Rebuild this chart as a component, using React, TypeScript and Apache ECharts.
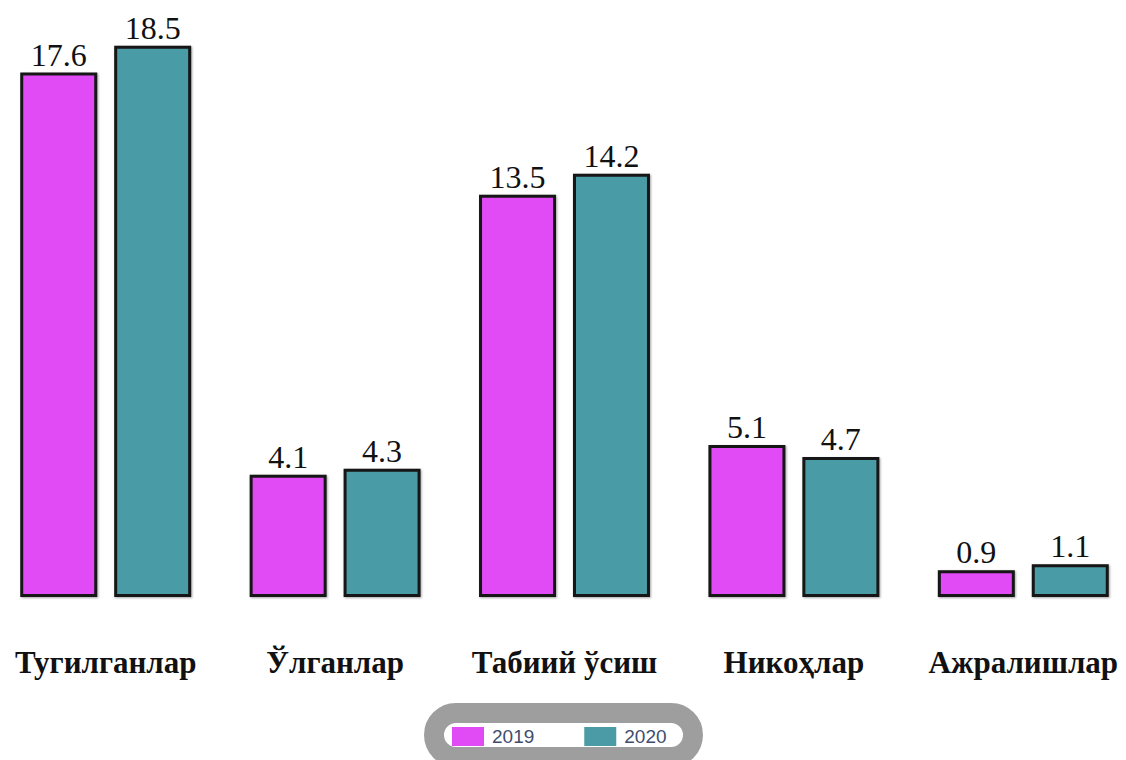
import React, { useEffect, useRef } from "react";
import * as echarts from "echarts";

const categories = ["Тугилганлар", "Ўлганлар", "Табиий ўсиш", "Никоҳлар", "Ажралишлар"];
const seriesNames = ["2019", "2020"];
const values2019 = [17.6, 4.1, 13.5, 5.1, 0.9];
const values2020 = [18.5, 4.3, 14.2, 4.7, 1.1];
const colors = ["#e04bf6", "#4a9ba6"];

const SHIFT = 10;

export default function App() {
  const ref = useRef<HTMLDivElement>(null);
  useEffect(() => {
    if (!ref.current) return;
    const chart = echarts.init(ref.current, null, { renderer: "svg" });
    const mkSeries = (name: string, data: number[], color: string) => ({
      name,
      type: "bar",
      data,
      barWidth: 77,
      barGap: "22%",
      itemStyle: {
        color,
        borderColor: "#161616",
        borderWidth: 3,
        shadowBlur: 2,
        shadowColor: "rgba(0,0,0,0.35)",
        shadowOffsetX: 1,
        shadowOffsetY: 1,
      },
      label: {
        show: true,
        position: "top",
        distance: 2,
        color: "#111",
        fontFamily: "'Liberation Serif', 'Times New Roman', serif",
        fontSize: 32,
      },
    });
    chart.setOption({
      animation: false,
      backgroundColor: "#ffffff",
      grid: { left: SHIFT - 9, width: 1147, top: 1, height: 596 },
      xAxis: {
        type: "category",
        data: categories,
        axisLine: { show: false },
        axisTick: { show: false },
        axisLabel: {
          margin: 50,
          color: "#111",
          fontWeight: "bold",
          fontSize: 31,
          fontFamily: "'Liberation Serif', 'Times New Roman', serif",
          interval: 0,
        },
      },
      yAxis: {
        type: "value",
        min: 0,
        max: 20,
        show: false,
        splitLine: { show: false },
      },
      graphic: [
        {
          type: "rect",
          z: -1,
          shape: { x: SHIFT + 434, y: 713, width: 259, height: 44, r: 22 },
          style: { fill: "#ffffff", stroke: "#9e9e9e", lineWidth: 20 },
        },
      ],
      legend: {
        data: seriesNames,
        left: SHIFT + 452,
        top: 727,
        padding: 0,
        itemWidth: 32,
        itemHeight: 19,
        itemGap: 50,
        icon: "rect",
        itemStyle: { borderWidth: 0, shadowBlur: 0 },
        textStyle: {
          fontSize: 19,
          color: "#3f4d6e",
          fontFamily: "'Liberation Sans', Arial, sans-serif",
          padding: [0, 0, 0, 3],
        },
      },
      series: [
        mkSeries(seriesNames[0], values2019, colors[0]),
        mkSeries(seriesNames[1], values2020, colors[1]),
      ],
    });
    return () => chart.dispose();
  }, []);
  return (
    <div
      style={{
        position: "fixed",
        left: 0,
        top: 0,
        width: 1126,
        height: 760,
        overflow: "hidden",
      }}
    >
      <div
        ref={ref}
        style={{ position: "absolute", left: -SHIFT, top: 0, width: 1126 + 2 * SHIFT + 10, height: 760 }}
      />
    </div>
  );
}
